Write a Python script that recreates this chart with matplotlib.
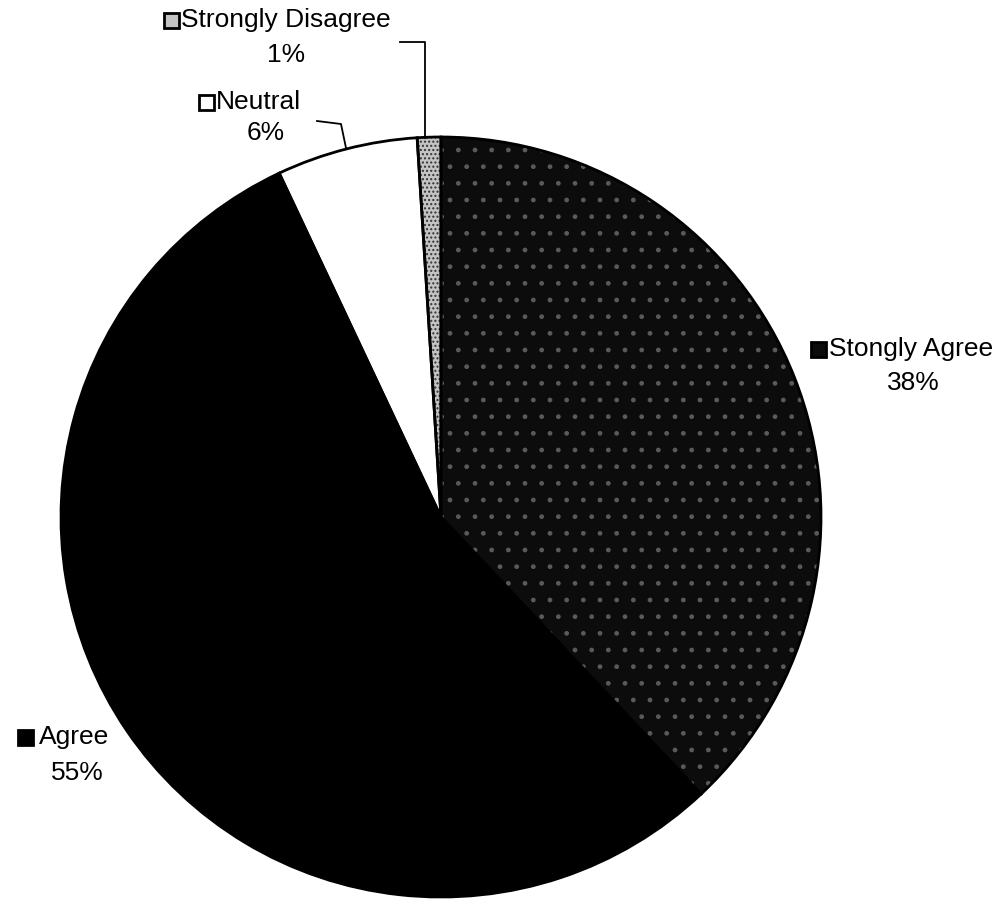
import matplotlib.pyplot as plt
from matplotlib.patches import Rectangle

labels = ['Stongly Agree', 'Agree', 'Neutral', 'Strongly Disagree']
shares = [38, 55, 6, 1]
colors = ['#0c0c0c', '#000000', '#ffffff', '#c4c4c4']
hatches = ['.', '', '', '....']
hatch_colors = ['#5a5a5a', '#000000', '#000000', '#333333']

W, H = 1006, 901
plt.rcParams['font.family'] = ['Liberation Sans', 'DejaVu Sans']

fig = plt.figure(figsize=(W / 100, H / 100), dpi=100)
ax = fig.add_axes([0, 0, 1, 1])

center = (441, H - 517)
radius = 380

# filled wedges with texture (hatch takes edge colour)
wedges, _ = ax.pie(shares, colors=colors, startangle=90, counterclock=False,
                   center=center, radius=radius, frame=True)
for w, h, hc in zip(wedges, hatches, hatch_colors):
    w.set_hatch(h)
    w.set_edgecolor(hc)
    w.set_linewidth(0)
# black outlines on top
ax.pie(shares, startangle=90, counterclock=False,
       center=center, radius=radius, frame=True,
       wedgeprops=dict(facecolor='none', edgecolor='black', linewidth=2))
ax.set_xlim(0, W)
ax.set_ylim(0, H)
ax.set_aspect('equal')
ax.axis('off')

# label placement (pixel coords from top-left)
sq_x = [811, 18, 199, 164]
sq_y = [349, 737, 102, 20]
name_x = [829, 39, 216, 181]
pct_x = [913, 77, 266, 286]
pct_y = [383, 773, 133, 55]
sq = 15

for i, lab in enumerate(labels):
    ax.add_patch(Rectangle((sq_x[i], H - sq_y[i] - sq / 2), sq, sq,
                           facecolor=colors[i], edgecolor='black', linewidth=2))
    ax.text(name_x[i], H - sq_y[i], lab, fontsize=19, ha='left', va='center')
    ax.text(pct_x[i], H - pct_y[i], f'{shares[i]}%', fontsize=19, ha='center', va='center')

# leader lines
ax.plot([400, 425, 425], [H - 42, H - 42, H - 138], color='black', linewidth=1.3)
ax.plot([317, 341, 346], [H - 121, H - 124, H - 148], color='black', linewidth=1.3)

fig.savefig('out.png', dpi=100)
